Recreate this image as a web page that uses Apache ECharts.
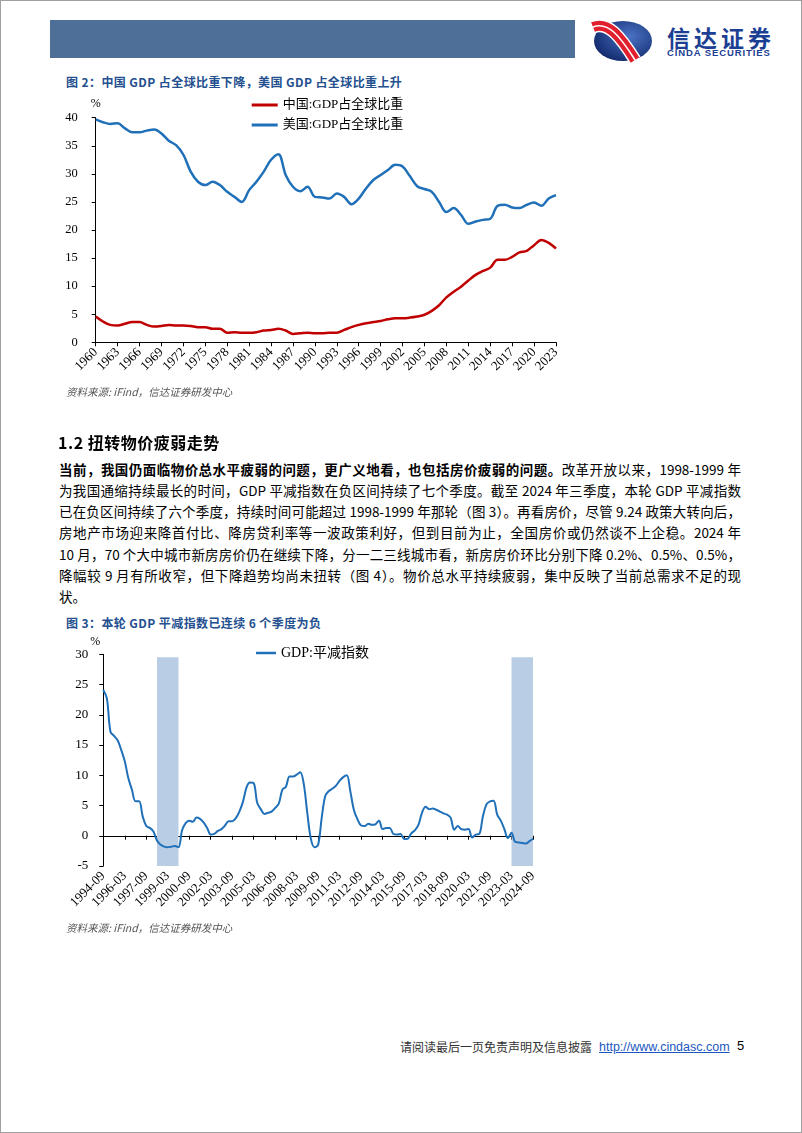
<!DOCTYPE html>
<html>
<head>
<meta charset="utf-8">
<script src="https://cdn.jsdelivr.net/npm/echarts@6/dist/echarts.min.js"></script>
<style>
  html, body { margin:0; padding:0; background:#fff; }
  body { width:802px; height:1133px; position:relative; overflow:hidden; font-family:"Noto Sans CJK SC", sans-serif; color:#000; }
  .abs { position:absolute; }
  .frame { position:absolute; left:0; top:0; width:800px; height:1131px; border:1px solid #a0a0a0; pointer-events:none; }
  .ctitle { position:absolute; left:66px; font-size:12px; line-height:14px; font-weight:bold; color:#24508f; white-space:nowrap; letter-spacing:0.4px; }
  .src { position:absolute; left:66px; font-size:10.5px; line-height:14px; font-style:italic; color:#555; white-space:nowrap; }
  .pl { position:absolute; left:59px; width:682px; font-size:13.5px; line-height:20px; white-space:nowrap; text-align:justify; text-align-last:justify; }
  .chart { position:absolute; left:0; width:802px; height:300px; }
</style>
</head>
<body>
<div class="frame"></div>
<!-- header -->
<div class="abs" style="left:50px;top:20px;width:525px;height:38px;background:#4e6f97;"></div>
<svg class="abs" style="left:590px;top:18px;" width="64" height="46" viewBox="0 0 64 46">
  <defs>
    <radialGradient id="g" cx="62%" cy="38%" r="70%">
      <stop offset="0" stop-color="#4a72c4"/>
      <stop offset="1" stop-color="#10286a"/>
    </radialGradient>
  </defs>
  <ellipse cx="33" cy="23" rx="29" ry="20" fill="url(#g)"/>
  <path d="M3 9 C 18 3, 30 18, 45 42" stroke="#ffffff" stroke-width="13" fill="none"/>
  <path d="M3 9 C 18 3, 30 18, 45 42" stroke="#e21f2c" stroke-width="10" fill="none"/>
  <path d="M3 9 C 18 3, 30 18, 45 42" stroke="#ffffff" stroke-width="1.6" fill="none"/>
</svg>
<div class="abs" style="left:667px;top:26px;font-size:23px;line-height:23px;font-weight:bold;color:#1c3f94;letter-spacing:4px;white-space:nowrap;">信达证券</div>
<div class="abs" style="left:667px;top:47.5px;font-family:'Liberation Sans',Arial,sans-serif;font-size:9.5px;line-height:9px;font-weight:bold;color:#1c3f94;letter-spacing:0.9px;white-space:nowrap;">CINDA SECURITIES</div>

<!-- figure 2 -->
<div class="ctitle" style="top:74.5px;">图 2：中国 GDP 占全球比重下降，美国 GDP 占全球比重上升</div>
<div id="c1" class="chart" style="top:88px;"></div>
<div class="src" style="top:385px;">资料来源: iFind，信达证券研发中心</div>

<!-- section text -->
<div class="abs" style="left:58px;top:431.7px;font-size:16px;line-height:20px;font-weight:bold;letter-spacing:0.5px;white-space:nowrap;">1.2 扭转物价疲弱走势</div>
<div class="pl" style="top:458.5px;"><b>当前，我国仍面临物价总水平疲弱的问题，更广义地看，也包括房价疲弱的问题。</b>改革开放以来，1998-1999 年</div>
<div class="pl" style="top:479.8px;">为我国通缩持续最长的时间，GDP 平减指数在负区间持续了七个季度。截至 2024 年三季度，本轮 GDP 平减指数</div>
<div class="pl" style="top:501.1px;">已在负区间持续了六个季度，持续时间可能超过 1998-1999 年那轮（图 3）。再看房价，尽管 9.24 政策大转向后，</div>
<div class="pl" style="top:522.4px;">房地产市场迎来降首付比、降房贷利率等一波政策利好，但到目前为止，全国房价或仍然谈不上企稳。2024 年</div>
<div class="pl" style="top:543.7px;">10 月，70 个大中城市新房房价仍在继续下降，分一二三线城市看，新房房价环比分别下降 0.2%、0.5%、0.5%，</div>
<div class="pl" style="top:565px;">降幅较 9 月有所收窄，但下降趋势均尚未扭转（图 4）。物价总水平持续疲弱，集中反映了当前总需求不足的现</div>
<div class="pl" style="top:586.3px;text-align:left;text-align-last:left;">状。</div>

<!-- figure 3 -->
<div class="ctitle" style="top:616px;">图 3：本轮 GDP 平减指数已连续 6 个季度为负</div>
<div id="c2" class="chart" style="top:630px;"></div>
<div class="src" style="top:921px;">资料来源: iFind，信达证券研发中心</div>

<!-- footer -->
<div class="abs" style="left:400px;top:1038.7px;font-size:12px;line-height:16px;color:#333;white-space:nowrap;">请阅读最后一页免责声明及信息披露</div>
<div class="abs" style="left:599px;top:1038.7px;font-family:'Liberation Sans',Arial,sans-serif;font-size:12.5px;line-height:16px;color:#1c57c0;text-decoration:underline;white-space:nowrap;">http://www.cindasc.com</div>
<div class="abs" style="left:737px;top:1038.2px;font-family:'Liberation Sans',Arial,sans-serif;font-size:13px;line-height:16px;color:#000;">5</div>

<script>
// ---------- Figure 2 data ----------
const years = [];
for (let y = 1960; y <= 2023; y++) years.push(String(y));
const chinaShare = [
  4.6, 3.7, 3.1, 3.0, 3.3, 3.6, 3.6, 3.1, 2.8, 2.9,
  3.1, 3.0, 3.0, 2.9, 2.7, 2.7, 2.4, 2.4, 1.7, 1.8,
  1.7, 1.7, 1.8, 2.1, 2.2, 2.4, 2.1, 1.5, 1.6, 1.7,
  1.6, 1.6, 1.7, 1.7, 2.2, 2.7, 3.1, 3.4, 3.6, 3.8,
  4.1, 4.3, 4.3, 4.4, 4.6, 4.9, 5.6, 6.6, 8.0, 9.0,
  9.9, 11.0, 12.0, 12.7, 13.3, 14.7, 14.7, 15.2, 16.0, 16.3,
  17.3, 18.2, 17.7, 16.7
];
const usShare = [
  39.7, 39.2, 38.9, 39.0, 38.1, 37.4, 37.4, 37.7, 37.9, 37.2,
  35.9, 35.1, 33.4, 30.4, 28.6, 28.0, 28.6, 28.0, 26.8, 25.9,
  25.0, 27.1, 28.6, 30.4, 32.5, 33.5, 29.8, 27.7, 26.9, 27.7,
  25.9, 25.8, 25.6, 26.5, 25.9, 24.6, 25.6, 27.4, 28.9, 29.8,
  30.7, 31.6, 31.3, 29.6, 27.8, 27.3, 26.8, 25.0, 23.2, 23.9,
  22.7, 21.1, 21.5, 21.8, 22.0, 24.3, 24.5, 24.0, 23.9, 24.5,
  24.9, 24.3, 25.6, 26.2
];
const fig2Ticks = { min: 0, max: 40, interval: 5 };

// ---------- Figure 3 data ----------
const quarters = [];
for (let i = 0; i <= 120; i++) {
  const m = 9 + 3 * i;
  const y = 1994 + Math.floor((m - 1) / 12);
  const mm = ((m - 1) % 12) + 1;
  quarters.push(y + '-' + String(mm).padStart(2, '0'));
}
const deflator = [
  24.1, 22.7, 17.2, 16.5, 15.8, 14.2, 12.3, 9.5, 7.6, 5.7,
  5.7, 3.2, 1.6, 1.3, 0.7, -0.8, -1.5, -1.8, -1.9, -1.8,
  -1.7, -1.9, 0.9, 2.1, 2.5, 2.3, 3.0, 2.8, 2.2, 1.3,
  0.2, 0.3, 0.8, 1.1, 1.7, 2.4, 2.4, 2.9, 4.0, 5.6,
  8.0, 8.8, 8.7, 5.4, 4.4, 3.6, 3.8, 4.0, 4.6, 5.3,
  7.6, 8.1, 9.8, 9.8, 10.1, 10.5, 8.5, 3.6, -0.6, -1.9,
  -1.5, 3.0, 6.6, 7.4, 7.8, 8.3, 9.1, 9.7, 10.0, 7.3,
  4.2, 2.7, 1.7, 1.6, 2.0, 1.8, 1.9, 2.5, 1.1, 1.3,
  1.3, 0.3, 0.2, 0.3, -0.55, -0.5, 0.4, 0.9, 1.8, 3.8,
  4.8, 4.4, 4.5, 4.3, 4.0, 3.7, 3.5, 3.0, 1.0, 1.6,
  1.1, 1.0, 1.1, -0.3, 0.2, 0.3, 3.2, 5.2, 5.7, 5.8,
  3.5, 2.5, 1.1, -0.4, 0.5, -1.0, -1.1, -1.2, -1.3, -0.9,
  -0.5
];
const deflationPeriods = [['1998-06', '1999-12'], ['2023-03', '2024-09']];
const shadeTop = 29.5;
const fig3Ticks = { min: -5, max: 30, interval: 5 };

const serifFont = "'Liberation Serif', 'Noto Sans CJK SC', serif";
const black = '#000';

// ---------- Chart 1 ----------
const c1 = echarts.init(document.getElementById('c1'));
c1.setOption({
  animation: false,
  grid: { left: 95.7, top: 29.7, width: 460.3, height: 224.6, containLabel: false, outerBoundsMode: 'none' },
  legend: {
    orient: 'vertical', left: 246.7, top: 5, icon: 'rect', itemWidth: 26, itemHeight: 3, itemGap: 6,
    textStyle: { fontFamily: serifFont, fontSize: 13, lineHeight: 14, color: black }
  },
  xAxis: {
    type: 'category', data: years, boundaryGap: false,
    axisLine: { lineStyle: { color: black, width: 1 } },
    axisTick: { interval: 2, length: 4, lineStyle: { color: black } },
    axisLabel: { interval: 2, rotate: 45, margin: 8, fontFamily: serifFont, fontSize: 13, color: black }
  },
  yAxis: {
    type: 'value', min: fig2Ticks.min, max: fig2Ticks.max, interval: fig2Ticks.interval,
    name: '%', nameLocation: 'end', nameGap: 8,
    nameTextStyle: { fontFamily: serifFont, fontSize: 12, color: black },
    axisLine: { show: true, onZero: false, lineStyle: { color: black, width: 1 } },
    axisTick: { show: true, length: 4, lineStyle: { color: black } },
    splitLine: { show: false },
    axisLabel: { margin: 18, fontFamily: serifFont, fontSize: 12.5, color: black }
  },
  series: [
    { name: '中国:GDP占全球比重', type: 'line', data: chinaShare, smooth: 0.35, symbol: 'none',
      lineStyle: { color: '#c00000', width: 2.5 }, itemStyle: { color: '#c00000' } },
    { name: '美国:GDP占全球比重', type: 'line', data: usShare, smooth: 0.35, symbol: 'none',
      lineStyle: { color: '#1f70b8', width: 2.5 }, itemStyle: { color: '#1f70b8' } }
  ]
});

// ---------- Chart 2 ----------
const c2 = echarts.init(document.getElementById('c2'));
c2.setOption({
  animation: false,
  grid: { left: 103.3, top: 24.3, width: 429.7, height: 211.7, containLabel: false, outerBoundsMode: 'none' },
  legend: {
    left: 251, top: 11, icon: 'rect', itemWidth: 20, itemHeight: 2.5,
    textStyle: { fontFamily: serifFont, fontSize: 14, lineHeight: 14, color: black }
  },
  xAxis: [
    {
      type: 'category', data: quarters, boundaryGap: false, position: 'bottom',
      axisLine: { onZero: true, lineStyle: { color: black, width: 1 } },
      axisTick: { interval: 5, length: 4, lineStyle: { color: black } },
      axisLabel: { show: false }
    },
    {
      type: 'category', data: quarters, boundaryGap: false, position: 'bottom',
      axisLine: { show: false, onZero: false },
      axisTick: { show: false },
      axisLabel: { interval: 5, rotate: 45, margin: 8, fontFamily: serifFont, fontSize: 13, color: black }
    }
  ],
  yAxis: {
    type: 'value', min: fig3Ticks.min, max: fig3Ticks.max, interval: fig3Ticks.interval,
    name: '%', nameLocation: 'end', nameGap: 6,
    nameTextStyle: { fontFamily: serifFont, fontSize: 12, color: black, padding: [0, 16, 0, 0] },
    axisLine: { show: true, onZero: false, lineStyle: { color: black, width: 1 } },
    axisTick: { show: true, length: 4, lineStyle: { color: black } },
    splitLine: { show: false },
    axisLabel: { margin: 15, fontFamily: serifFont, fontSize: 13, color: black }
  },
  series: [
    {
      name: 'GDP:平减指数', type: 'line', xAxisIndex: 0, data: deflator, smooth: 0.35, symbol: 'none',
      lineStyle: { color: '#1f70b8', width: 2 }, itemStyle: { color: '#1f70b8' }, z: 3,
      markArea: {
        silent: true,
        itemStyle: { color: '#b9cde5' },
        data: deflationPeriods.map(p => [{ xAxis: p[0], yAxis: shadeTop }, { xAxis: p[1], yAxis: fig3Ticks.min }])
      }
    }
  ]
});
</script>
</body>
</html>
